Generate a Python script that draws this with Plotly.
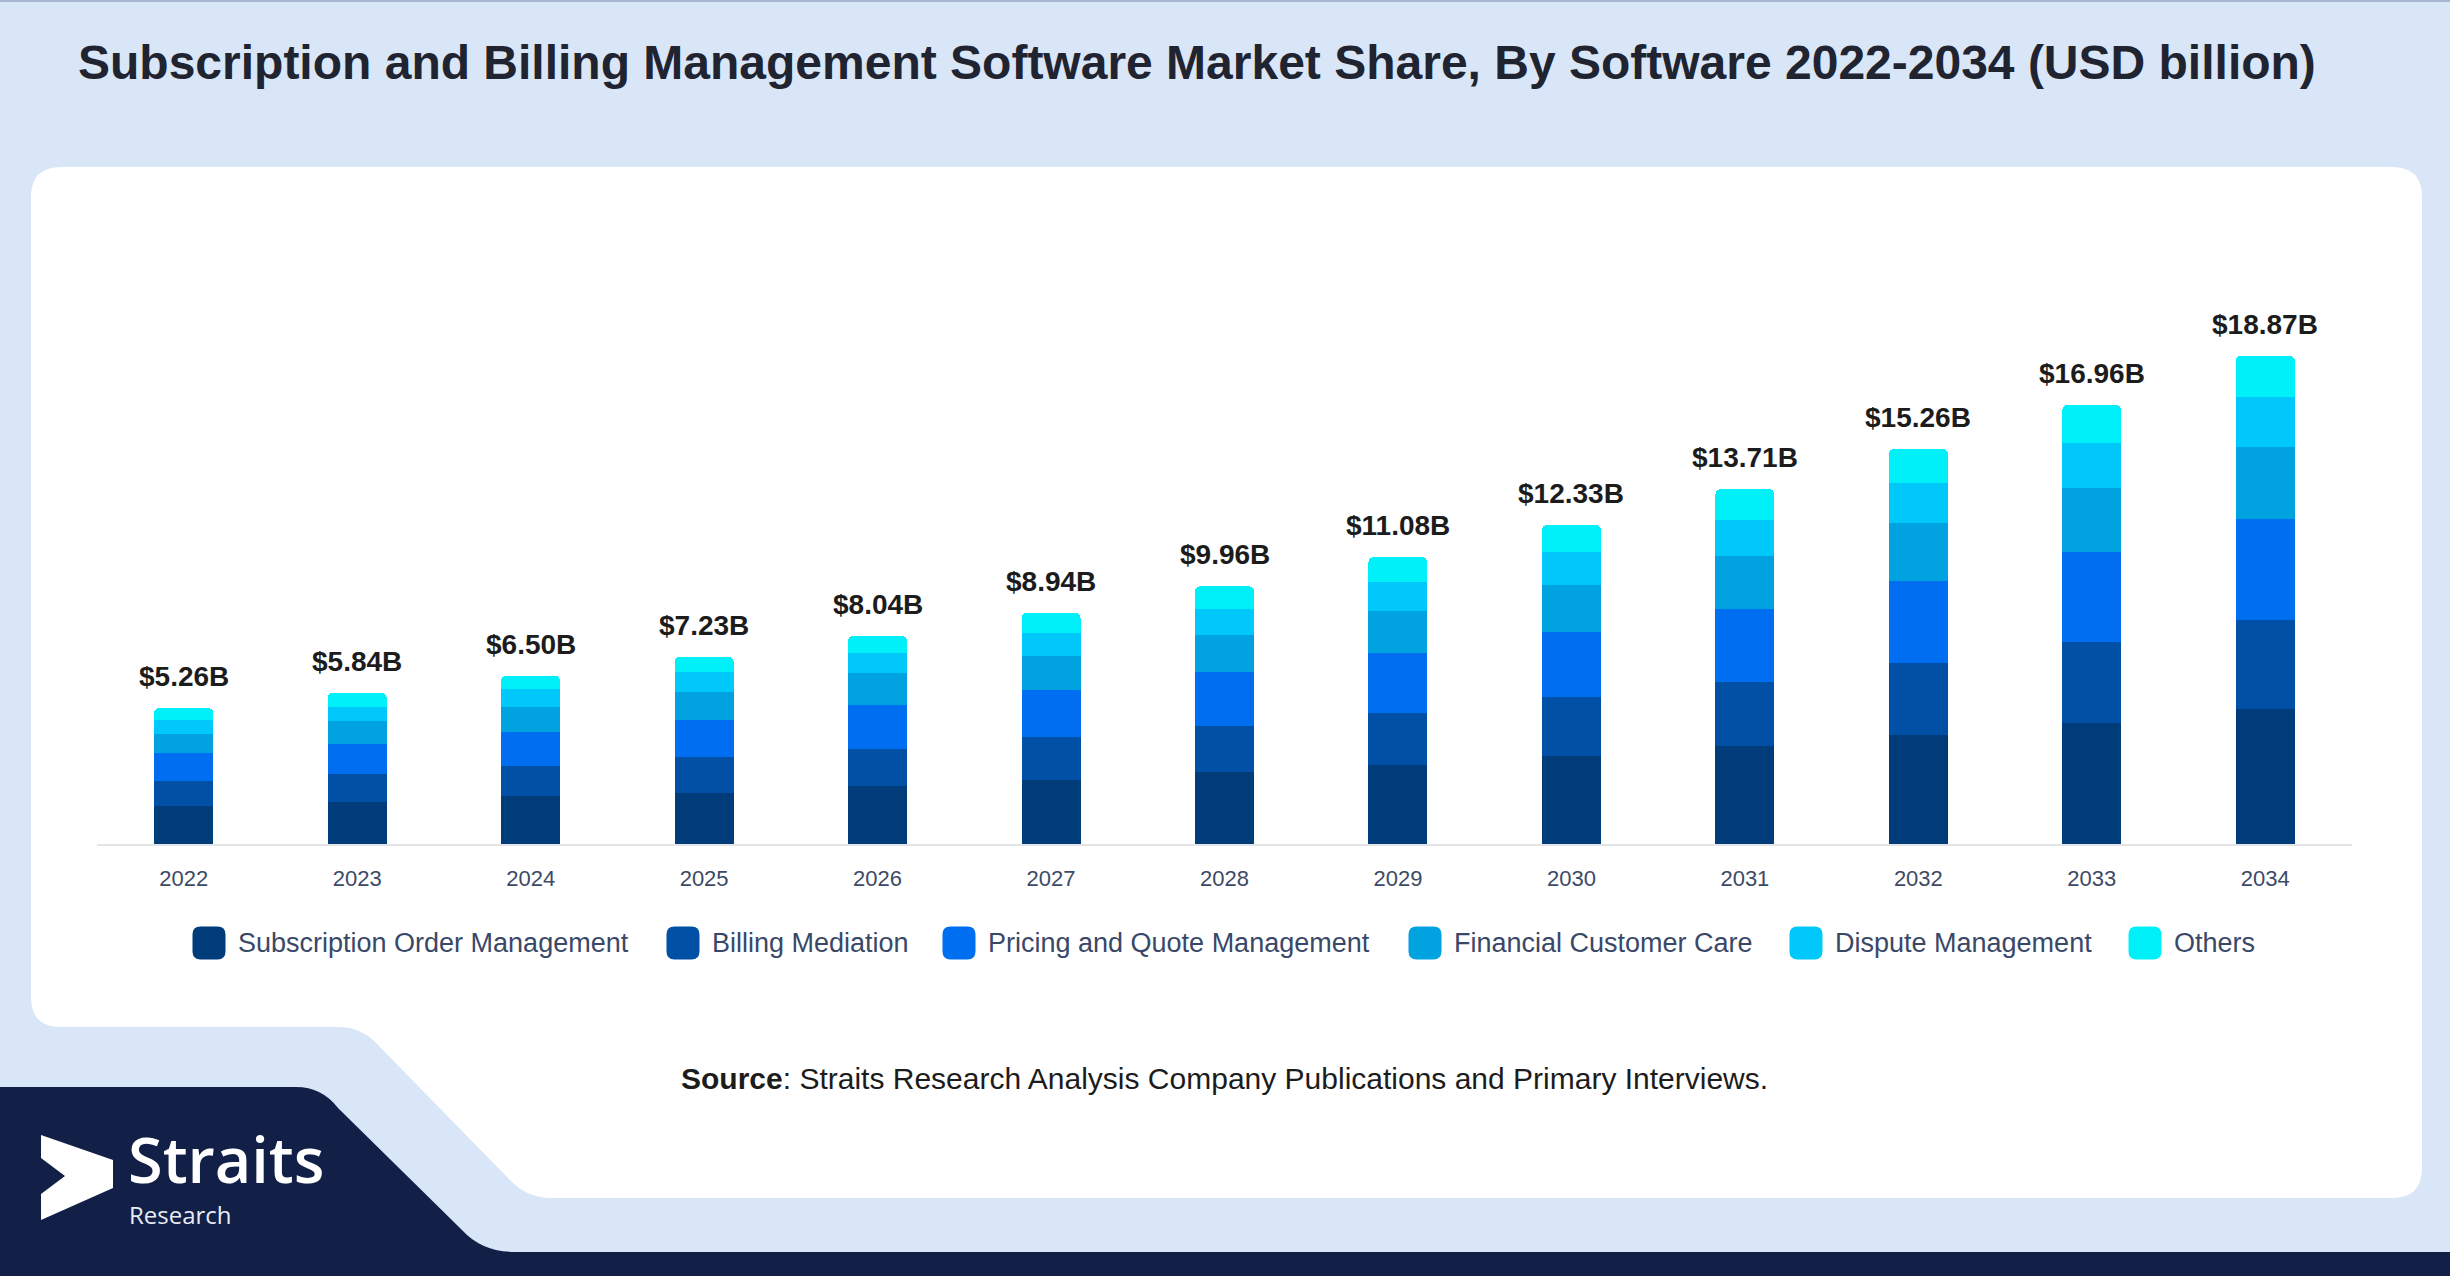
import plotly.graph_objects as go

W, H = 2450, 1276
# plot area in pixels
L, R, T, B = 97, 2352, 223, 844

years = [str(y) for y in range(2022, 2035)]
totals = [5.26, 5.84, 6.50, 7.23, 8.04, 8.94, 9.96, 11.08, 12.33, 13.71, 15.26, 16.96, 18.87]

subscription_order = [1.47, 1.64, 1.84, 1.98, 2.24, 2.49, 2.77, 3.07, 3.42, 3.78, 4.20, 4.67, 5.20]
billing_mediation = [0.95, 1.07, 1.17, 1.38, 1.45, 1.64, 1.78, 2.01, 2.26, 2.50, 2.81, 3.12, 3.46]
pricing_quote = [1.08, 1.16, 1.33, 1.45, 1.68, 1.83, 2.09, 2.30, 2.52, 2.79, 3.14, 3.49, 3.91]
financial_care = [0.75, 0.90, 0.95, 1.07, 1.23, 1.30, 1.44, 1.63, 1.81, 2.05, 2.24, 2.49, 2.78]
dispute_mgmt = [0.54, 0.54, 0.70, 0.75, 0.80, 0.90, 1.01, 1.12, 1.27, 1.39, 1.55, 1.71, 1.93]
others = [0.47, 0.53, 0.51, 0.60, 0.64, 0.78, 0.87, 0.95, 1.05, 1.20, 1.32, 1.48, 1.59]

series = [
    ("Subscription Order Management", subscription_order, "#003b7a"),
    ("Billing Mediation", billing_mediation, "#0051a5"),
    ("Pricing and Quote Management", pricing_quote, "#006ef0"),
    ("Financial Customer Care", financial_care, "#00a3e0"),
    ("Dispute Management", dispute_mgmt, "#00c8fb"),
    ("Others", others, "#00f0fa"),
]

FONT = "Liberation Sans, Arial, sans-serif"
# legend swatch centres (px) along the legend row
LEGEND_X = [209, 683, 959, 1425, 1806, 2145]
LEGEND_Y = 943


def px(x):
    return (x - L) / (R - L)


def py(y):
    return (B - y) / (B - T)


def pp(x, y):
    return f"{px(x):.5f},{py(y):.5f}"


def path(cmds):
    out = []
    for c in cmds:
        op, pts = c[0], c[1:]
        out.append(op + " ".join(pp(*p) for p in pts))
    return " ".join(out) + " Z"


def rounded_box(cx, cy, s, r):
    x0, x1, y0, y1 = cx - s / 2, cx + s / 2, cy - s / 2, cy + s / 2
    return path([
        ("M", (x0 + r, y0)), ("L", (x1 - r, y0)), ("Q", (x1, y0), (x1, y0 + r)),
        ("L", (x1, y1 - r)), ("Q", (x1, y1), (x1 - r, y1)), ("L", (x0 + r, y1)),
        ("Q", (x0, y1), (x0, y1 - r)), ("L", (x0, y0 + r)), ("Q", (x0, y0), (x0 + r, y0)),
    ])


card = path([
    ("M", (31, 197)), ("Q", (31, 167), (61, 167)), ("L", (2392, 167)),
    ("Q", (2422, 167), (2422, 197)), ("L", (2422, 1168)),
    ("Q", (2422, 1198), (2392, 1198)), ("L", (552, 1198)),
    ("Q", (528, 1198), (512, 1182)), ("L", (378, 1045)),
    ("Q", (362, 1027), (338, 1027)), ("L", (61, 1027)),
    ("Q", (31, 1027), (31, 997)),
])
navy = path([
    ("M", (0, 1087)), ("L", (296, 1087)), ("Q", (322, 1087), (338, 1108)),
    ("L", (462, 1230)), ("Q", (482, 1252), (515, 1252)), ("L", (2450, 1252)),
    ("L", (2450, 1276)), ("L", (0, 1276)),
])
logo = path([
    ("M", (41, 1135)), ("L", (113, 1160)), ("L", (113, 1188)), ("L", (41, 1220)),
    ("L", (41, 1194)), ("L", (65, 1176)), ("L", (41, 1158)),
])

fig = go.Figure()
for name, vals, color in series:
    fig.add_trace(go.Bar(x=years, y=vals, name=name, marker_color=color,
                         marker_line_width=0, showlegend=False))

shapes = [
    dict(type="path", path=card, xref="paper", yref="paper",
         fillcolor="white", line_width=0, layer="below"),
    dict(type="path", path=navy, xref="paper", yref="paper",
         fillcolor="#121f47", line_width=0, layer="below"),
    dict(type="path", path=logo, xref="paper", yref="paper",
         fillcolor="white", line_width=0, layer="below"),
    # thin border along the top edge
    dict(type="line", xref="paper", yref="paper", x0=px(0), x1=px(W), y0=py(1), y1=py(1),
         line=dict(color="#a9b6d2", width=2), layer="below"),
]

annotations = [
    dict(x=i, y=tot, xref="x", yref="y", text=f"<b>${tot:.2f}B</b>", showarrow=False,
         yanchor="bottom", yshift=14, font=dict(family=FONT, size=28, color="#1c1c1c"))
    for i, tot in enumerate(totals)
]

# legend row: rounded swatches + labels
for (name, _, color), lx in zip(series, LEGEND_X):
    shapes.append(dict(type="path", path=rounded_box(lx, LEGEND_Y, 33, 8),
                       xref="paper", yref="paper", fillcolor=color, line_width=0))
    annotations.append(dict(x=px(lx + 27), y=py(LEGEND_Y), xref="paper", yref="paper",
                            text=name, showarrow=False, xanchor="left", yanchor="middle",
                            font=dict(family=FONT, size=27, color="#3a4868")))

annotations += [
    dict(x=0.5, y=py(1078), xref="paper", yref="paper", showarrow=False,
         text="<b>Source</b>: Straits Research Analysis Company Publications and Primary Interviews.",
         font=dict(family=FONT, size=30, color="#1c1c1c"), xanchor="center", yanchor="middle"),
    dict(x=px(126), y=py(1158), xref="paper", yref="paper",
         showarrow=False, text="Straits", xanchor="left", yanchor="middle",
         font=dict(family="Open Sans", size=63, color="white", weight=600)),
    dict(x=px(127), y=py(1214), xref="paper", yref="paper",
         showarrow=False, text="Research", xanchor="left", yanchor="middle",
         font=dict(family="Open Sans", size=24, color="#e8ecf5")),
]

fig.update_layout(
    width=W, height=H,
    margin=dict(l=L, r=W - R, t=T, b=H - B),
    paper_bgcolor="#d9e6f8",
    plot_bgcolor="rgba(0,0,0,0)",
    barmode="stack",
    bargap=0.66,
    barcornerradius=5,
    title=dict(
        text="<b>Subscription and Billing Management Software Market Share, By Software 2022-2034 (USD billion)</b>",
        x=78 / W, xanchor="left", y=1 - 62 / H, yanchor="middle",
        font=dict(family=FONT, size=48, color="#1f2430"),
    ),
    shapes=shapes,
    annotations=annotations,
    showlegend=False,
)
fig.update_xaxes(
    type="category", range=[-0.5, 12.5], showline=True, linecolor="#e2e4e8", linewidth=2,
    showgrid=False, ticks="", ticklabelstandoff=14,
    tickfont=dict(family=FONT, size=22, color="#3d4a66"),
)
fig.update_yaxes(range=[0, 24], visible=False, showgrid=False, zeroline=False)

fig.write_html("out.html", config={"displayModeBar": False},
               post_script="document.body.style.margin='0';")
